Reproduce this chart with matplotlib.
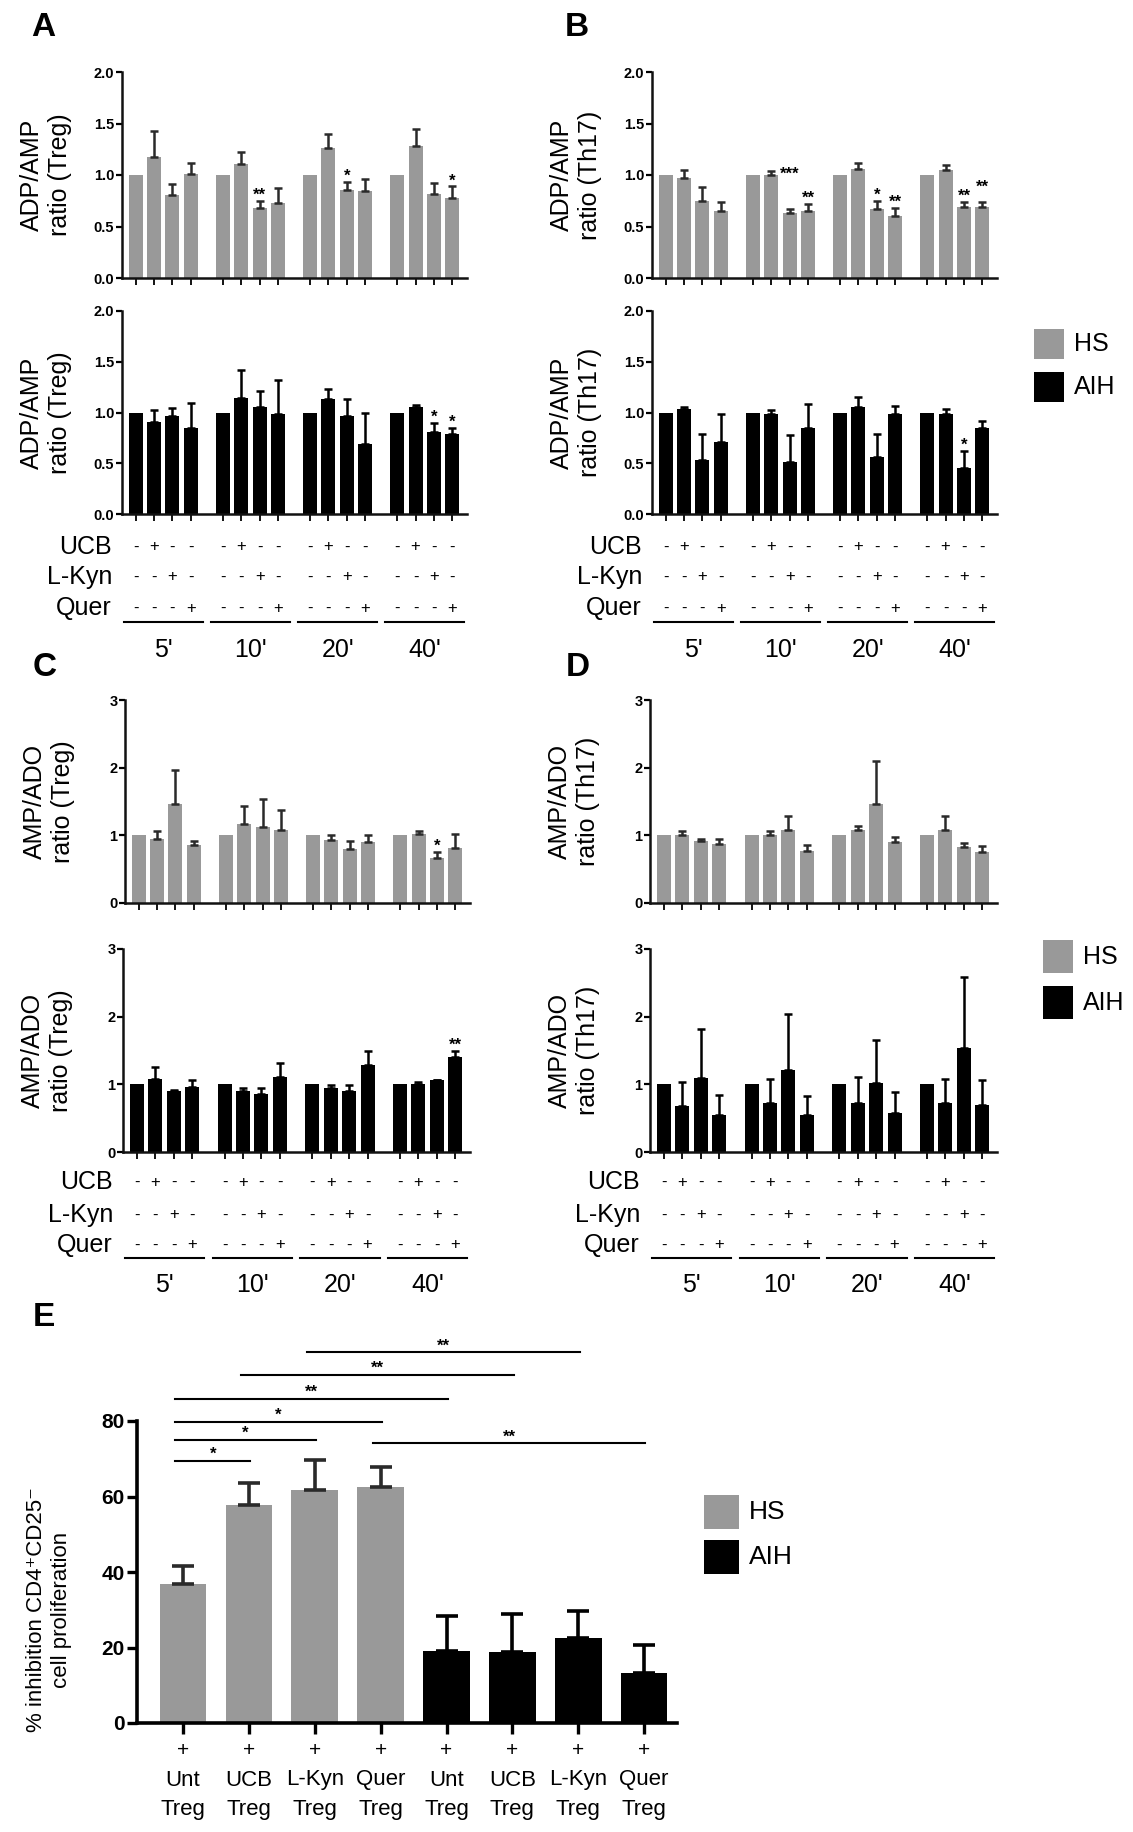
import numpy as np
import matplotlib
matplotlib.use("Agg")
import matplotlib.pyplot as plt
from matplotlib.transforms import offset_copy
from matplotlib.patches import Rectangle

plt.rcParams['font.family'] = ['Liberation Sans', 'DejaVu Sans']

W, H = 1133, 1832
DPI = 100

# ---------------- data ----------------
time_points = ["5'", "10'", "20'", "40'"]
treat_names = ["UCB", "L-Kyn", "Quer"]
ucb_signs = ["-", "+", "-", "-"]
lkyn_signs = ["-", "-", "+", "-"]
quer_signs = ["-", "-", "-", "+"]
group_names = ["HS", "AIH"]

# A: ADP/AMP ratio (Treg)
a_hs_mean = [1.00, 1.17, 0.81, 1.01, 1.00, 1.11, 0.68, 0.73, 1.00, 1.26, 0.85, 0.84, 1.00, 1.28, 0.82, 0.78]
a_hs_sem = [0.00, 0.26, 0.10, 0.11, 0.00, 0.11, 0.07, 0.14, 0.00, 0.14, 0.08, 0.12, 0.00, 0.17, 0.10, 0.11]
a_hs_sig = ["", "", "", "", "", "", "**", "", "", "", "*", "", "", "", "", "*"]
a_aih_mean = [1.00, 0.91, 0.97, 0.85, 1.00, 1.14, 1.05, 0.99, 1.00, 1.13, 0.97, 0.69, 1.00, 1.05, 0.81, 0.79]
a_aih_sem = [0.00, 0.11, 0.07, 0.24, 0.00, 0.28, 0.16, 0.33, 0.00, 0.10, 0.16, 0.31, 0.00, 0.02, 0.09, 0.06]
a_aih_sig = ["", "", "", "", "", "", "", "", "", "", "", "", "", "", "*", "*"]

# B: ADP/AMP ratio (Th17)
b_hs_mean = [1.00, 0.97, 0.75, 0.65, 1.00, 1.00, 0.63, 0.65, 1.00, 1.06, 0.67, 0.60, 1.00, 1.05, 0.69, 0.69]
b_hs_sem = [0.00, 0.08, 0.13, 0.09, 0.00, 0.04, 0.04, 0.07, 0.00, 0.06, 0.08, 0.08, 0.00, 0.05, 0.05, 0.05]
b_hs_sig = ["", "", "", "", "", "", "***", "**", "", "", "*", "**", "", "", "**", "**"]
b_aih_mean = [1.00, 1.03, 0.53, 0.71, 1.00, 0.99, 0.51, 0.85, 1.00, 1.05, 0.56, 0.99, 1.00, 0.99, 0.45, 0.85]
b_aih_sem = [0.00, 0.02, 0.26, 0.28, 0.00, 0.03, 0.27, 0.23, 0.00, 0.10, 0.23, 0.07, 0.00, 0.04, 0.17, 0.07]
b_aih_sig = ["", "", "", "", "", "", "", "", "", "", "", "", "", "", "*", ""]

# C: AMP/ADO ratio (Treg)
c_hs_mean = [1.00, 0.94, 1.47, 0.86, 1.00, 1.17, 1.13, 1.08, 1.00, 0.93, 0.80, 0.90, 1.00, 1.02, 0.67, 0.81]
c_hs_sem = [0.00, 0.12, 0.50, 0.06, 0.00, 0.27, 0.40, 0.29, 0.00, 0.08, 0.12, 0.11, 0.00, 0.05, 0.09, 0.21]
c_hs_sig = ["", "", "", "", "", "", "", "", "", "", "", "", "", "", "*", ""]
c_aih_mean = [1.00, 1.08, 0.90, 0.96, 1.00, 0.90, 0.86, 1.11, 1.00, 0.94, 0.90, 1.29, 1.00, 1.01, 1.06, 1.41]
c_aih_sem = [0.00, 0.18, 0.02, 0.11, 0.00, 0.05, 0.08, 0.21, 0.00, 0.05, 0.09, 0.21, 0.00, 0.02, 0.01, 0.09]
c_aih_sig = ["", "", "", "", "", "", "", "", "", "", "", "", "", "", "", "**"]

# D: AMP/ADO ratio (Th17)
d_hs_mean = [1.00, 1.01, 0.92, 0.87, 1.00, 1.01, 1.08, 0.77, 1.00, 1.08, 1.47, 0.90, 1.00, 1.08, 0.83, 0.76]
d_hs_sem = [0.00, 0.06, 0.03, 0.07, 0.00, 0.06, 0.21, 0.08, 0.00, 0.06, 0.63, 0.08, 0.00, 0.21, 0.06, 0.08]
d_hs_sig = [""] * 16
d_aih_mean = [1.00, 0.68, 1.09, 0.55, 1.00, 0.73, 1.21, 0.55, 1.00, 0.73, 1.02, 0.58, 1.00, 0.73, 1.53, 0.70]
d_aih_sem = [0.00, 0.35, 0.73, 0.29, 0.00, 0.35, 0.83, 0.28, 0.00, 0.38, 0.64, 0.30, 0.00, 0.35, 1.05, 0.36]
d_aih_sig = [""] * 16

# E: % inhibition of CD4+CD25- cell proliferation
e_treat = ["Unt", "UCB", "L-Kyn", "Quer", "Unt", "UCB", "L-Kyn", "Quer"]
e_group = ["HS", "HS", "HS", "HS", "AIH", "AIH", "AIH", "AIH"]
e_mean = [36.9, 57.7, 61.7, 62.6, 19.1, 18.8, 22.4, 13.3]
e_sem = [4.6, 6.0, 7.9, 5.1, 9.3, 10.1, 7.2, 7.4]
e_pairs = [(0, 1), (0, 2), (0, 3), (0, 4), (1, 5), (2, 6), (3, 7)]
e_pair_sig = ["*", "*", "*", "**", "**", "**", "**"]
e_pair_level = [69.4, 75.0, 79.8, 85.9, 92.3, 98.2, 74.1]

# ---------------- style ----------------
COL = {"HS": "#999999", "AIH": "#000000"}
ECOL = {"HS": "#2a2a2a", "AIH": "#000000"}

fig = plt.figure(figsize=(W / DPI, H / DPI), dpi=DPI)


def rect(l, t, r, b):
    return [l / W, 1 - b / H, (r - l) / W, (b - t) / H]


n_per = 1 + len(treat_names)
GSTEP = 4.75
bar_x = np.array([g * GSTEP + b for g in range(len(time_points)) for b in range(n_per)], dtype=float)
XLIM = (-0.75, bar_x[-1] + 0.8)


def ratio_panel(box, mean, sem, sig, grp, ymax, yticks, yticklabels, ylabel,
                bottom=False, rows=(33, 63, 94), line_off=108, time_off=136,
                star_centers=None):
    l, t, r, b = box
    ax = fig.add_axes(rect(l, t, r, b))
    mean = np.asarray(mean, float)
    sem = np.asarray(sem, float)
    ax.bar(bar_x, mean, width=0.76, color=COL[grp], zorder=2)
    nz = sem > 0
    ax.errorbar(bar_x[nz], mean[nz], yerr=[np.zeros(nz.sum()), sem[nz]], fmt='none',
                ecolor=ECOL[grp], elinewidth=1.8, capsize=3, capthick=1.8, zorder=3)
    ax.set_xlim(*XLIM)
    ax.set_ylim(0, ymax)
    for s in ['top', 'right']:
        ax.spines[s].set_visible(False)
    for s in ['left', 'bottom']:
        ax.spines[s].set_linewidth(1.8)
        ax.spines[s].set_color('#111111')
    ax.set_yticks(yticks)
    ax.set_yticklabels(yticklabels, fontsize=10.5, fontweight='bold')
    ax.tick_params(axis='y', direction='out', length=4, width=1.6, pad=1.5)
    ax.set_xticks(bar_x)
    ax.set_xticklabels([])
    ax.tick_params(axis='x', direction='out', length=5, width=1.3)
    ax.set_ylabel(ylabel, fontsize=18, linespacing=1.2)
    ax.yaxis.set_label_coords(-50 / (r - l), 0.5)
    # significance stars
    px_per_unit = (b - t) / ymax
    for k, lab in enumerate(sig):
        if not lab:
            continue
        if star_centers and k in star_centers:
            yc = star_centers[k]
        else:
            yc = mean[k] + sem[k] + 10 / px_per_unit
        ax.annotate(lab, xy=(bar_x[k], yc), xytext=(0, -9), textcoords='offset pixels',
                    ha='center', va='baseline', fontsize=12, fontweight='bold',
                    annotation_clip=False)
    if bottom:
        xt = ax.get_xaxis_transform()
        sign_rows = [ucb_signs, lkyn_signs, quer_signs]
        for i, name in enumerate(treat_names):
            ax.annotate(name, xy=(0, 0), xycoords='axes fraction', xytext=(-10, -rows[i]),
                        textcoords='offset pixels', ha='right', va='center', fontsize=18)
            for g in range(len(time_points)):
                for j in range(n_per):
                    k = g * n_per + j
                    ax.annotate(sign_rows[i][j], xy=(bar_x[k], 0), xycoords=xt,
                                xytext=(0, -rows[i]), textcoords='offset pixels',
                                ha='center', va='center', fontsize=12)
        ltrans = offset_copy(xt, fig=fig, x=0, y=-line_off, units='dots')
        for g, tp in enumerate(time_points):
            x0 = bar_x[g * n_per] - 0.65
            x1 = bar_x[g * n_per + n_per - 1] + 0.65
            ax.plot([x0, x1], [0, 0], transform=ltrans, color='k', lw=1.5, clip_on=False)
            ax.annotate(tp, xy=((x0 + x1) / 2, 0), xycoords=xt, xytext=(0, -time_off),
                        textcoords='offset pixels', ha='center', va='center', fontsize=18)
    return ax


yt_adp = [0, 0.5, 1.0, 1.5, 2.0]
ytl_adp = ["0.0", "0.5", "1.0", "1.5", "2.0"]
yt_amp = [0, 1, 2, 3]
ytl_amp = ["0", "1", "2", "3"]

ratio_panel((122, 72, 467, 278), a_hs_mean, a_hs_sem, a_hs_sig, "HS", 2.0, yt_adp, ytl_adp,
            "ADP/AMP\nratio (Treg)")
ratio_panel((122, 311, 467, 514), a_aih_mean, a_aih_sem, a_aih_sig, "AIH", 2.0, yt_adp, ytl_adp,
            "ADP/AMP\nratio (Treg)", bottom=True)
ratio_panel((652, 72, 997, 278), b_hs_mean, b_hs_sem, b_hs_sig, "HS", 2.0, yt_adp, ytl_adp,
            "ADP/AMP\nratio (Th17)", star_centers={6: 1.05, 15: 0.92})
ratio_panel((652, 311, 997, 514), b_aih_mean, b_aih_sem, b_aih_sig, "AIH", 2.0, yt_adp, ytl_adp,
            "ADP/AMP\nratio (Th17)", bottom=True)
ratio_panel((125, 700, 470, 903), c_hs_mean, c_hs_sem, c_hs_sig, "HS", 3, yt_amp, ytl_amp,
            "AMP/ADO\nratio (Treg)")
ratio_panel((123, 949, 470, 1152), c_aih_mean, c_aih_sem, c_aih_sig, "AIH", 3, yt_amp, ytl_amp,
            "AMP/ADO\nratio (Treg)", bottom=True, rows=(30, 63, 93), line_off=106, time_off=133)
ratio_panel((650, 700, 997, 903), d_hs_mean, d_hs_sem, d_hs_sig, "HS", 3, yt_amp, ytl_amp,
            "AMP/ADO\nratio (Th17)")
ratio_panel((650, 949, 997, 1152), d_aih_mean, d_aih_sem, d_aih_sig, "AIH", 3, yt_amp, ytl_amp,
            "AMP/ADO\nratio (Th17)", bottom=True, rows=(30, 63, 93), line_off=106, time_off=133)

# ---------------- panel E ----------------
l, t, r, b = 137, 1421, 677, 1723
axe = fig.add_axes(rect(l, t, r, b))
ex = np.arange(len(e_mean), dtype=float)
ecolors = [COL[g] for g in e_group]
axe.bar(ex, e_mean, width=0.71, color=ecolors, zorder=2)
for g in group_names:
    idx = [i for i, gg in enumerate(e_group) if gg == g]
    axe.errorbar(ex[idx], np.array(e_mean)[idx], yerr=[np.zeros(len(idx)), np.array(e_sem)[idx]],
                 fmt='none', ecolor=ECOL[g], elinewidth=2.6, capsize=8, capthick=2.6, zorder=3)
axe.set_xlim(-0.70, 7.5)
axe.set_ylim(0, 80)
for s in ['top', 'right']:
    axe.spines[s].set_visible(False)
for s in ['left', 'bottom']:
    axe.spines[s].set_linewidth(2.6)
axe.set_yticks([0, 20, 40, 60, 80])
axe.set_yticklabels(["0", "20", "40", "60", "80"], fontsize=15, fontweight='bold')
axe.tick_params(axis='y', direction='out', length=7, width=2.4, pad=2)
axe.set_xticks(ex)
axe.set_xticklabels([])
axe.tick_params(axis='x', direction='out', length=8, width=2.4)
axe.set_ylabel("% inhibition CD4\u207aCD25\u207b\ncell proliferation", fontsize=16, linespacing=1.25)
axe.yaxis.set_label_coords(-65 / (r - l), 0.374)
xt = axe.get_xaxis_transform()
for i, name in enumerate(e_treat):
    axe.annotate("+", xy=(ex[i], 0), xycoords=xt, xytext=(0, -27), textcoords='offset pixels',
                 ha='center', va='center', fontsize=15)
    axe.annotate(name, xy=(ex[i], 0), xycoords=xt, xytext=(0, -57), textcoords='offset pixels',
                 ha='center', va='center', fontsize=16)
    axe.annotate("Treg", xy=(ex[i], 0), xycoords=xt, xytext=(0, -87), textcoords='offset pixels',
                 ha='center', va='center', fontsize=16)
for (i, j), lab, lev in zip(e_pairs, e_pair_sig, e_pair_level):
    axe.plot([ex[i] - 0.12, ex[j] + 0.02], [lev, lev], color='k', lw=1.5, clip_on=False)
    axe.annotate(lab, xy=((ex[i] + ex[j]) / 2 - 0.05, lev), xytext=(0, 2), textcoords='offset pixels',
                 ha='center', va='baseline', fontsize=12, fontweight='bold', annotation_clip=False)

# ---------------- legends ----------------
def legend_block(x, y_hs, y_aih, bw, bh, fs):
    for g, yy in zip(group_names, (y_hs, y_aih)):
        fig.add_artist(Rectangle((x / W, 1 - (yy + bh) / H), bw / W, bh / H,
                                 transform=fig.transFigure, color=COL[g], lw=0))
        fig.text((x + bw + 10) / W, 1 - (yy + bh / 2) / H, g, ha='left', va='center', fontsize=fs)


legend_block(1034, 329, 372, 30, 30, 18)
legend_block(1043, 940, 986, 30, 33, 18)
legend_block(704, 1495, 1540, 35, 34, 19)

# ---------------- panel letters ----------------
for lab, (x, y) in zip("ABCDE", [(31, 12), (565, 12), (33, 652), (566, 652), (33, 1302)]):
    fig.text(x / W, 1 - y / H, lab, ha='left', va='top', fontsize=24, fontweight='bold')

fig.savefig("out.png", dpi=DPI)
